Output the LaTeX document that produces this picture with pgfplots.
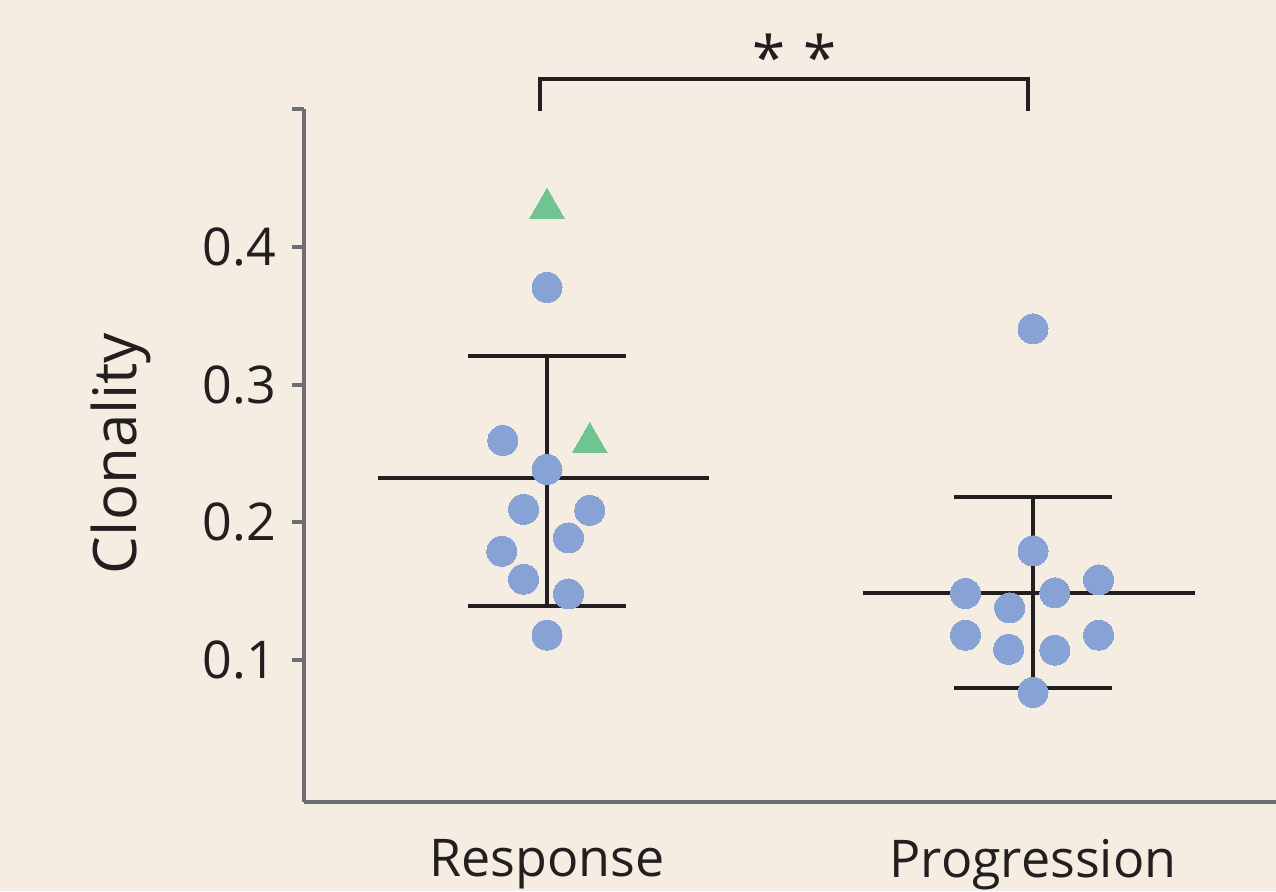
\documentclass[border=0pt]{standalone}
\usepackage{fontspec}
\setmainfont{Open Sans}
\usepackage{pgfplots}
\pgfplotsset{compat=1.18}
\definecolor{bg}{HTML}{F5EDE1}
\definecolor{ptblue}{HTML}{87A3D5}
\definecolor{ptgreen}{HTML}{6FC491}
\definecolor{ink}{HTML}{231F20}
\definecolor{axgray}{HTML}{6D6E71}
\begin{document}
\begin{tikzpicture}[x=1pt,y=1pt]
\fill[bg] (0,0) rectangle (638,445.5);
\begin{axis}[
 at={(152pt,44.5pt)}, anchor=south west,
 scale only axis, width=486pt, height=346.5pt,
 xmin=-0.5, xmax=1.5, ymin=-0.003, ymax=0.5,
 axis lines=left, axis line style={-, draw=axgray, line width=2pt},
 clip=false,
 xtick={0,1}, xticklabels={Response,Progression},
 ytick={0.1,0.2,0.3,0.4,0.5}, yticklabels={0.1,0.2,0.3,0.4,{}},
 tick align=outside, major tick length=6pt,
 ytick style={draw=axgray, line width=2pt},
 xtick style={draw=none},
 tick label style={font=\fontsize{26}{30}\selectfont, text=ink},
 yticklabel style={xshift=-4.5pt},
 xticklabel style={yshift=-9pt},
 ylabel={Clonality},
 ylabel style={font=\fontsize{30}{35}\selectfont, text=ink, at={(axis description cs:-0.188,0.503)}, anchor=center},
]
% Response summary
\addplot[ink, line width=2pt] coordinates {(-0.347,0.2321) (0.333,0.2321)};
\addplot[ink, line width=2pt] coordinates {(-0.163,0.321) (0.163,0.321)};
\addplot[ink, line width=2pt] coordinates {(-0.163,0.1394) (0.163,0.1394)};
\addplot[ink, line width=2pt] coordinates {(0,0.1394) (0,0.321)};
% Progression summary
\addplot[ink, line width=2pt] coordinates {(0.65,0.1486) (1.334,0.1486)};
\addplot[ink, line width=2pt] coordinates {(0.837,0.2183) (1.163,0.2183)};
\addplot[ink, line width=2pt] coordinates {(0.837,0.080) (1.163,0.080)};
\addplot[ink, line width=2pt] coordinates {(1,0.080) (1,0.2183)};
% Response points
\addplot[only marks, color=ptblue, mark=*, mark size=7.5pt, mark options={draw=ptblue, fill=ptblue, line width=0pt}] coordinates {
 (0,0.3705) (-0.091,0.2594) (0,0.2384) (-0.048,0.2094) (0.088,0.2087)
 (0.044,0.1887) (-0.093,0.179) (-0.048,0.1587) (0.044,0.148) (0,0.1181)};
\addplot[only marks, color=ptgreen, mark=triangle*, mark size=10pt, mark options={draw=ptgreen, fill=ptgreen, line width=0pt}] coordinates {
 (0,0.428) (0.088,0.258)};
% Progression points
\addplot[only marks, color=ptblue, mark=*, mark size=7.5pt, mark options={draw=ptblue, fill=ptblue, line width=0pt}] coordinates {
 (1,0.3404) (1,0.1792) (0.861,0.1483) (1.045,0.1488) (1.135,0.1582)
 (0.952,0.1379) (0.861,0.1181) (1.135,0.1181) (0.950,0.1078) (1.045,0.1072) (1,0.0766)};
% significance bracket
\draw[ink, line width=2pt] (axis cs:-0.015,0.4986) -- (axis cs:-0.015,0.5217) -- (axis cs:0.99,0.5217) -- (axis cs:0.99,0.4986);
\node[font=\fontsize{30}{30}\selectfont, text=ink] at (axis cs:0.457,0.538) {*};
\node[font=\fontsize{30}{30}\selectfont, text=ink] at (axis cs:0.5616,0.538) {*};
\end{axis}
\pgfresetboundingbox
\useasboundingbox (0,0) rectangle (638,445.5);
\end{tikzpicture}
\end{document}
